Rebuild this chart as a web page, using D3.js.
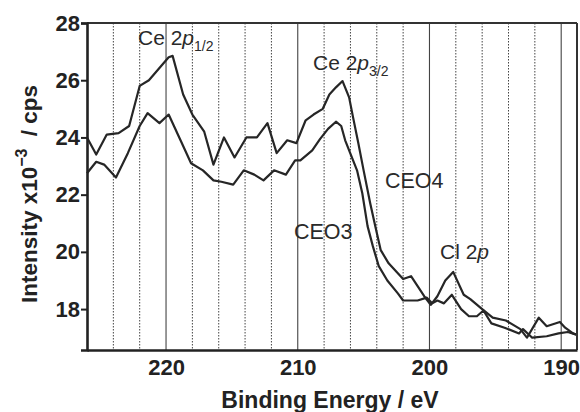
<!DOCTYPE html>
<html>
<head>
<meta charset="utf-8">
<script src="https://cdn.jsdelivr.net/npm/d3@7"></script>
<style>
  html, body { margin: 0; padding: 0; background: #fff; }
  svg { display: block; font-family: "Liberation Sans", Arial, sans-serif; }
</style>
</head>
<body>
<svg id="chart" width="580" height="412"></svg>
<script>
// XPS spectra, Ce 2p / Cl 2p region (binding energy in eV, intensity in 10^3 cps)
const ceo4Energy = [226.0, 225.3, 224.5, 223.6, 222.8, 222.0, 221.3, 219.8, 219.5, 218.7, 218.0, 217.1,
  216.4, 215.6, 214.8, 213.9, 213.1, 212.3, 211.6, 210.8, 210.1, 209.4, 208.8, 208.1, 207.6, 207.1,
  206.6, 206.1, 205.8, 205.4, 205.0, 204.5, 204.1, 203.7, 203.1, 202.0, 201.4, 200.9, 200.4, 199.9,
  199.4, 198.8, 198.2, 197.4, 196.9, 196.0, 195.2, 194.2, 193.1, 192.6, 191.7, 191.1, 190.1, 189.7,
  189.1, 188.8];
const ceo4Counts = [24.0, 23.4, 24.1, 24.15, 24.4, 25.8, 26.0, 26.8, 26.85, 25.5, 24.8, 24.2,
  23.05, 24.0, 23.3, 24.0, 24.0, 24.5, 23.45, 23.9, 23.8, 24.6, 24.8, 25.0, 25.5, 25.75,
  25.97, 25.4, 24.7, 23.8, 22.85, 21.7, 20.87, 20.06, 19.6, 19.05, 19.15, 18.8, 18.45, 18.15,
  18.45, 19.0, 19.3, 18.5, 18.35, 18.0, 17.7, 17.6, 17.3, 17.0, 17.7, 17.4, 17.55, 17.35,
  17.15, 17.1];

const ceo3Energy = [226.0, 225.3, 224.7, 223.8, 222.9, 222.0, 221.4, 220.5, 219.8, 218.9, 218.1, 217.2,
  216.4, 215.8, 214.9, 214.1, 213.3, 212.6, 211.8, 210.9, 210.2, 209.8, 208.9, 208.3, 207.7, 207.1,
  206.7, 206.4, 205.8, 205.5, 205.1, 204.7, 204.3, 203.85, 203.2, 202.4, 202.0, 200.9, 200.2, 199.8,
  199.4, 198.9, 198.3, 197.6, 197.0, 196.4, 195.9, 195.3, 194.3, 193.2, 192.9, 192.2, 191.1, 190.2,
  189.5, 188.8];
const ceo3Counts = [22.75, 23.15, 23.05, 22.6, 23.45, 24.4, 24.85, 24.5, 24.8, 23.9, 23.1, 22.85,
  22.5, 22.45, 22.35, 22.85, 22.7, 22.5, 22.85, 22.7, 23.2, 23.2, 23.55, 23.95, 24.3, 24.55,
  24.4, 23.9, 23.2, 22.85, 22.05, 20.9, 20.2, 19.5, 19.0, 18.55, 18.3, 18.3, 18.4, 18.2,
  18.3, 18.2, 18.5, 18.0, 17.75, 17.75, 17.95, 17.5, 17.35, 17.15, 17.3, 17.0, 17.05, 17.15,
  17.2, 17.1];

const xTicks = [220, 210, 200, 190];
const yTicks = [18, 20, 22, 24, 26, 28];
const gridSolid = [220, 210, 200, 190];
const gridDotted = [224, 222, 218, 216, 214, 212, 208, 206, 204, 202, 198, 196, 194, 192];

const svg = d3.select("#chart");
const plotL = 87, plotR = 577, plotT = 23, plotB = 350;

const x = d3.scaleLinear().domain([226, 188.8]).range([plotL, plotR]);
const y = d3.scaleLinear().domain([16.57, 28]).range([plotB, plotT]);

// vertical reference lines
svg.append("g").selectAll("line").data(gridDotted).join("line")
  .attr("x1", d => x(d)).attr("x2", d => x(d))
  .attr("y1", plotT).attr("y2", plotB)
  .attr("stroke", "#444").attr("stroke-width", 1)
  .attr("stroke-dasharray", "1.5,1.5");
svg.append("g").selectAll("line").data(gridSolid).join("line")
  .attr("x1", d => x(d)).attr("x2", d => x(d))
  .attr("y1", plotT).attr("y2", plotB)
  .attr("stroke", "#444").attr("stroke-width", 1.1);

// spectra
const line = d3.line().x(d => x(d[0])).y(d => y(d[1]));
const series = [
  d3.zip(ceo4Energy, ceo4Counts),
  d3.zip(ceo3Energy, ceo3Counts)
];
svg.append("g").selectAll("path").data(series).join("path")
  .attr("d", line)
  .attr("fill", "none")
  .attr("stroke", "#262626")
  .attr("stroke-width", 2.2)
  .attr("stroke-linejoin", "round");

// frame
svg.append("line").attr("x1", plotL).attr("x2", plotR).attr("y1", plotT).attr("y2", plotT)
  .attr("stroke", "#333").attr("stroke-width", 2);
svg.append("line").attr("x1", plotR).attr("x2", plotR).attr("y1", plotT).attr("y2", plotB)
  .attr("stroke", "#333").attr("stroke-width", 2);

// axes
const yAxis = d3.axisLeft(y).tickValues(yTicks).tickSize(6).tickPadding(1).tickFormat(d3.format("d"));
const gy = svg.append("g").attr("transform", `translate(${plotL},0)`).call(yAxis);
gy.select(".domain").attr("stroke", "#222").attr("stroke-width", 2.6);
gy.selectAll(".tick line").attr("stroke", "#222").attr("stroke-width", 2);
gy.selectAll(".tick text").attr("fill", "#222").attr("font-size", 22).attr("font-weight", "bold")
  .attr("font-family", "Liberation Sans, Arial, sans-serif");

const xAxis = d3.axisBottom(x).tickValues(xTicks).tickSize(0).tickPadding(9).tickFormat(d3.format("d"));
const gx = svg.append("g").attr("transform", `translate(0,${plotB})`).call(xAxis);
gx.select(".domain").attr("stroke", "#222").attr("stroke-width", 2.6);
gx.selectAll(".tick text").attr("fill", "#222").attr("font-size", 22).attr("font-weight", "bold")
  .attr("font-family", "Liberation Sans, Arial, sans-serif");

// axis titles
svg.append("text")
  .attr("x", (plotL + plotR) / 2 - 2).attr("y", 408)
  .attr("text-anchor", "middle")
  .attr("font-size", 23).attr("font-weight", "bold").attr("fill", "#222")
  .text("Binding Energy / eV");

const yt = svg.append("text")
  .attr("transform", "translate(37,194) rotate(-90)")
  .attr("text-anchor", "middle")
  .attr("font-size", 22.5).attr("font-weight", "bold").attr("fill", "#222");
yt.append("tspan").text("Intensity x10");
yt.append("tspan").attr("dy", -10).attr("font-size", 16).text("−3");
yt.append("tspan").attr("dy", 10).attr("dx", 6).text(" / cps");

// peak and sample labels
function label(xp, yp, main, italic, sub) {
  const t = svg.append("text").attr("x", xp).attr("y", yp)
    .attr("font-size", 21).attr("fill", "#2a2a2a");
  t.append("tspan").text(main);
  t.append("tspan").attr("font-style", "italic").text(italic);
  if (sub) t.append("tspan").attr("dy", 6).attr("font-size", 14).text(sub);
  return t;
}
label(138, 45, "Ce 2", "p", "1/2");
label(313, 70, "Ce 2", "p", "3/2");
label(440, 259, "Cl 2", "p", null);
svg.append("text").attr("x", 385).attr("y", 188).attr("font-size", 21.5).attr("fill", "#2a2a2a").text("CEO4");
svg.append("text").attr("x", 294).attr("y", 239).attr("font-size", 21.5).attr("fill", "#2a2a2a").text("CEO3");
</script>
</body>
</html>
